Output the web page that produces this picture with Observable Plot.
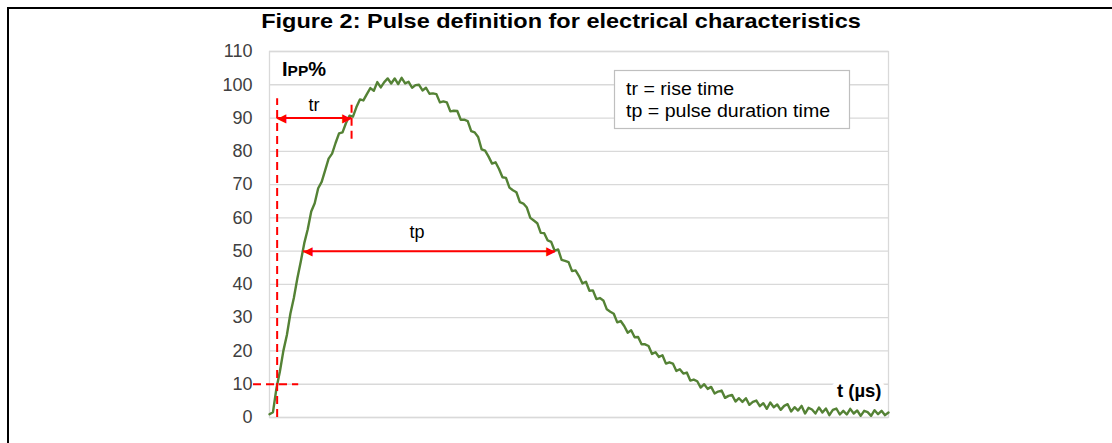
<!DOCTYPE html>
<html><head><meta charset="utf-8">
<script src="https://cdn.jsdelivr.net/npm/d3@7"></script>
<script src="https://cdn.jsdelivr.net/npm/@observablehq/plot@0.6"></script>
<style>
body{margin:0;background:#fff;}
#wrap{position:relative;width:1112px;height:443px;overflow:hidden;font-family:"Liberation Sans",Arial,sans-serif;background:#fff;}
#chart{position:absolute;left:0;top:0;}
#overlay{position:absolute;left:0;top:0;pointer-events:none;}
#border{position:absolute;left:7px;top:7px;width:1200px;height:600px;border-left:2px solid #000;border-top:2px solid #000;pointer-events:none;}
</style></head>
<body>
<div id="wrap">
  <div id="chart"></div>
  <svg id="overlay" width="1112" height="443" font-family="Liberation Sans, Arial, sans-serif">
    <text transform="translate(561,28) scale(1.12,1)" text-anchor="middle" font-weight="bold" font-size="21" fill="#000">Figure 2: Pulse definition for electrical characteristics</text>
    <text transform="translate(282,76)" font-weight="bold" fill="#000"><tspan font-size="20">I</tspan><tspan font-size="15.5">PP</tspan><tspan font-size="20">%</tspan></text>
    <rect x="614.5" y="70.5" width="235" height="58" fill="#fff" stroke="#bfbfbf" stroke-width="1.2"></rect>
    <text transform="translate(626,95) scale(1.12,1)" font-size="17.5" fill="#000">tr = rise time</text>
    <text transform="translate(626,117) scale(1.12,1)" font-size="17.5" fill="#000">tp = pulse duration time</text>
  </svg>
  <div id="border"></div>
</div>
<script>
// Sampled pulse current (Ipp %), one sample every 0.25 µs
const sampleStep = 0.25;
const ippValues = [
  1.0, 1.6, 8.8, 13.9,
  20.1, 24.8, 31.2, 35.9,
  41.8, 46.9, 52.4, 56.6,
  61.9, 64.4, 68.9, 70.8,
  74.3, 77.8, 79.3, 82.5,
  85.4, 85.7, 88.5, 90.7,
  90.4, 93.3, 95.6, 95.3,
  97.2, 99.0, 98.2, 100.8,
  99.2, 100.8, 101.9, 100.4,
  101.9, 100.2, 102.1, 100.4,
  100.9, 99.1, 99.9, 100.0,
  98.3, 99.1, 97.3, 97.4,
  97.2, 94.7, 95.0, 94.7,
  92.0, 92.2, 92.1, 89.5,
  89.5, 89.1, 86.1, 85.7,
  84.3, 80.6, 80.2, 78.4,
  76.3, 76.7, 74.7, 72.2,
  72.0, 69.1, 68.3, 67.7,
  64.7, 64.3, 63.1, 60.0,
  59.2, 58.4, 55.5, 55.4,
  53.2, 52.8, 50.1, 50.5,
  47.4, 47.1, 46.7, 44.0,
  44.2, 42.5, 40.3, 40.8,
  38.1, 38.2, 35.6, 35.9,
  35.2, 32.5, 31.8, 31.2,
  28.6, 29.0, 27.5, 25.5,
  26.2, 24.1, 24.2, 22.0,
  22.0, 21.5, 19.1, 19.6,
  18.2, 18.7, 16.2, 16.6,
  16.2, 14.0, 14.5, 13.2,
  13.5, 11.1, 11.4, 10.9,
  9.0, 10.0, 8.6, 9.2,
  7.2, 7.8, 8.1, 5.9,
  6.5, 6.8, 4.8, 5.8,
  4.7, 5.8, 3.8, 4.7,
  5.1, 3.4, 4.3, 2.6,
  4.5, 3.1, 3.9, 2.3,
  3.5, 4.0, 1.8, 3.1,
  2.1, 3.5, 1.2, 2.9,
  2.4, 1.2, 3.0, 1.5,
  2.7, 0.7, 2.3, 2.7,
  0.9, 2.0, 0.9, 2.6,
  1.2, 2.1, 0.5, 2.0,
  1.6, 0.5, 2.2, 1.0,
  2.0, 0.7, 1.5
];
const yTicks = [0, 10, 20, 30, 40, 50, 60, 70, 80, 90, 100, 110];

// Annotation values (µs and %)
const tOrigin = 0.55;      // virtual origin
const t90 = 5.9;           // 90 % on rise
const t50Rise = 2.44;      // 50 % on rise
const t50Fall = 20.56;     // 50 % on tail
const levels = [10, 50, 90];
const originTop = 95.8;
const t90Span = [83.6, 95];
const lowSpan = [-1.15, 2.1];
const labelTr = {t: 3.2, y: 93.9, s: "tr"};
const labelTp = {t: 10.6, y: 55.6, s: "tp"};
const tMax = 44.5;

const pulse = ippValues.map((v, i) => ({t: i * sampleStep, v}));
const arrows = [
  {x1: tOrigin, x2: t90, y: levels[2]},
  {x1: t50Rise, x2: t50Fall, y: levels[1]}
];

const red = "#ff0000";
const dash = "8,5";

const chart = Plot.plot({
  width: 1112,
  height: 443,
  marginLeft: 269,
  marginRight: 224,
  marginTop: 51,
  marginBottom: 26,
  style: {fontFamily: "'Liberation Sans', Arial, sans-serif", background: "transparent"},
  x: {domain: [0, tMax], axis: null},
  y: {domain: [0, 110], axis: null},
  marks: [
    Plot.gridY(yTicks, {stroke: "#d9d9d9", strokeOpacity: 1, strokeWidth: 1.3}),
    Plot.frame({stroke: "#d9d9d9", strokeWidth: 1.3}),
    Plot.axisY(yTicks, {tickSize: 0, tickPadding: 17, fontSize: 18, color: "#404040"}),
    Plot.text([{t: tMax, y: levels[0], s: "t (µs)"}], {x: "t", y: "y", text: "s", textAnchor: "end", dx: -7, dy: 7, fontSize: 18.5, fontWeight: "bold", fill: "#000", stroke: "#fff", strokeWidth: 10}),
    Plot.line(pulse, {x: "t", y: "v", stroke: "#548235", strokeWidth: 2.4}),
    Plot.ruleX([tOrigin], {y1: 0, y2: originTop, stroke: red, strokeWidth: 2, strokeDasharray: dash}),
    Plot.ruleX([t90], {y1: t90Span[0], y2: t90Span[1], stroke: red, strokeWidth: 2, strokeDasharray: dash}),
    Plot.ruleY([levels[0]], {x1: lowSpan[0], x2: lowSpan[1], stroke: red, strokeWidth: 2, strokeDasharray: dash}),
    Plot.ruleY(arrows, {x1: "x1", x2: "x2", y: "y", stroke: red, strokeWidth: 2}),
    Plot.text(arrows, {x: "x1", y: "y", text: () => "\u25C0", textAnchor: "start", fill: red, fontSize: 12, fontFamily: "DejaVu Sans"}),
    Plot.text(arrows, {x: "x2", y: "y", text: () => "\u25B6", textAnchor: "end", fill: red, fontSize: 12, fontFamily: "DejaVu Sans"}),
    Plot.text([labelTr, labelTp], {x: "t", y: "y", text: "s", fontSize: 18, fill: "#000"})
  ]
});
document.getElementById("chart").appendChild(chart);
</script>
</body></html>
